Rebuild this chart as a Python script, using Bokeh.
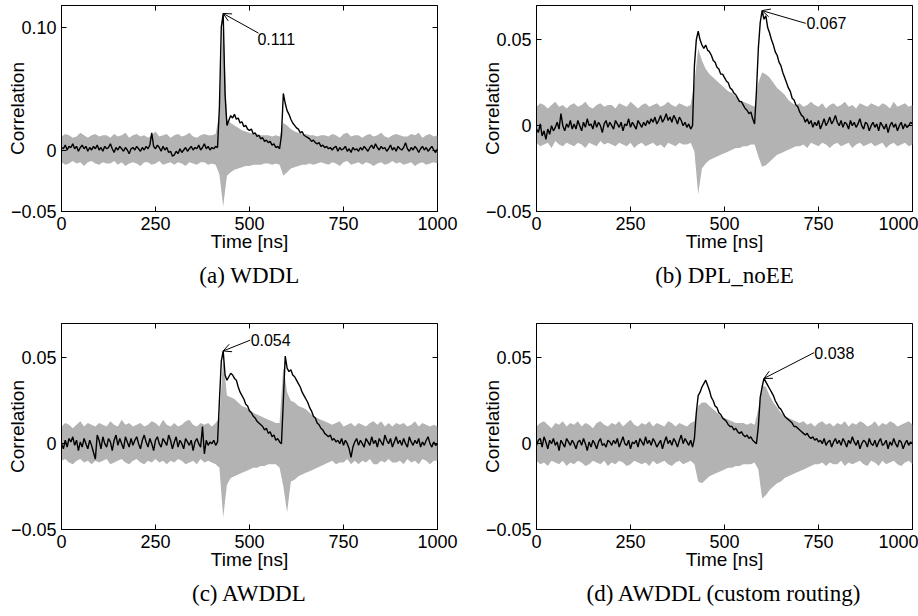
import numpy as np
from bokeh.plotting import figure
from bokeh.layouts import column, row
from bokeh.models import Arrow, OpenHead, Label, FixedTicker, LinearAxis, CustomJSTickFormatter
from bokeh.embed import file_html
from bokeh.resources import INLINE

# ---------------- data (correlation values in units of 1e-3) ----------------
time_ns = list(range(0, 1001, 5))        # black trace sampling
band_time_ns = list(range(0, 1001, 10))  # gray band (wrong key hypotheses) envelope sampling
x_ticks = [0, 250, 500, 750, 1000]

captions = ["(a) WDDL", "(b) DPL_noEE", "(c) AWDDL", "(d) AWDDL (custom routing)"]

# (a) WDDL
wddl_correct = [
    2, 1, 4, 0, 3, 2, 5, 1, 3, -1, 2, 4, 1, 3, -1, 2, 0, 3, 1, 4,
    0, 2, -1, 3, 1, 2, 5, 1, -2, 2, 0, 3, 1, -1, 2, 0, -3, 1, 2, 0,
    3, 1, -1, 2, 0, 3, 1, 4, 14, 3, 1, 4, 2, -1, 3, 0, 2, -2, -1, -5,
    -4, -1, -3, 1, -2, 0, 2, -1, 1, 3, 0, 2, 1, 4, 0, 2, 5, 1, 3, 0,
    2, 1, 3, 2, 35, 100, 111, 45, 20, 24, 28, 26, 29, 25, 26, 22, 23, 19, 20, 17,
    16, 17, 13, 14, 11, 12, 9, 10, 7, 8, 6, 7, 4, 5, 2, 3, 1, 12, 46, 38,
    32, 29, 25, 22, 20, 18, 17, 14, 15, 12, 11, 10, 9, 7, 8, 6, 5, 6, 3, 4,
    2, 3, 1, 2, 0, 2, 3, -1, 2, 0, 1, 3, -1, 1, -2, 2, 0, 1, -1, 2,
    0, 3, 1, -1, 2, 4, 1, 5, 2, 0, 3, 1, 2, -1, 1, 4, 0, 2, -1, 3,
    1, 0, 2, 6, 1, -1, 2, 0, 3, 1, -2, 1, 3, 0, 2, -1, 1, 3, 0, -2,
    1]
wddl_band_hi = [
    11, 13, 12, 10, 11, 14, 12, 10, 12, 13,
    11, 12, 12, 10, 13, 11, 12, 14, 10, 12,
    13, 11, 12, 10, 12, 15, 11, 12, 13, 10,
    12, 13, 11, 12, 14, 11, 10, 12, 13, 12,
    12, 13, 30, 105, 25, 22, 20, 18, 16, 15,
    14, 13, 13, 12, 12, 12, 11, 12, 11, 22,
    20, 17, 15, 14, 13, 13, 12, 12, 11, 12,
    12, 11, 13, 12, 10, 13, 14, 11, 12, 12,
    10, 12, 13, 11, 12, 14, 11, 10, 12, 13,
    12, 11, 11, 13, 12, 14, 10, 12, 13, 11,
    12]
wddl_band_lo = [
    -10, -12, -11, -9, -11, -10, -13, -10, -9, -11,
    -12, -10, -11, -11, -9, -12, -10, -13, -11, -10,
    -11, -13, -10, -10, -12, -11, -9, -12, -11, -10,
    -12, -10, -11, -13, -10, -11, -12, -10, -10, -12,
    -11, -12, -20, -46, -21, -18, -16, -15, -14, -13,
    -13, -12, -12, -12, -11, -11, -12, -11, -12, -21,
    -18, -15, -14, -13, -12, -12, -11, -12, -11, -10,
    -11, -12, -10, -11, -13, -10, -9, -12, -11, -10,
    -12, -10, -11, -13, -11, -10, -12, -11, -9, -11,
    -10, -12, -11, -10, -13, -11, -10, -12, -11, -10,
    -11]

# (b) DPL_noEE
dpl_correct = [
    -2, -4, 1, -6, -3, -8, -2, -5, 0, -3, -1, 2, -2, 7, 0, -3, 1, -1, 3, -2,
    1, -2, 3, 0, -3, 2, -1, 4, 0, 1, -2, 3, -1, 2, 0, -4, 1, 3, -1, 2,
    0, -2, 3, 1, -1, 2, -3, 1, 0, 4, -1, 2, 0, -2, 3, 1, -1, 2, 0, 3,
    1, 4, 2, 5, 1, 3, 6, 2, 4, 7, 3, 5, 2, 6, 4, 1, 5, 3, 0, 2,
    -1, 1, -2, 0, 35, 50, 55, 50, 47, 45, 47, 44, 43, 41, 38, 37, 34, 33, 30, 30,
    28, 26, 25, 22, 21, 19, 18, 16, 14, 14, 12, 10, 9, 7, 8, 4, 1, 20, 45, 60,
    67, 62, 64, 57, 54, 50, 47, 43, 41, 37, 35, 31, 28, 25, 22, 20, 16, 15, 12, 11,
    8, 6, 5, 2, 4, 1, 3, -1, 2, 0, 3, -2, 1, 4, 0, 2, 5, 1, 3, 6,
    2, 0, 3, -1, 2, 1, -2, 3, 0, 2, -1, 1, 4, 0, -2, 2, 1, -3, 0, 2,
    -1, 1, -3, 2, 0, -2, 1, -4, 0, 2, -1, 1, -3, 0, 2, -2, 1, -1, 0, 2,
    1]
dpl_band_hi = [
    11, 13, 12, 10, 12, 14, 11, 12, 10, 12,
    13, 11, 12, 14, 11, 10, 12, 13, 11, 12,
    12, 10, 13, 12, 11, 14, 12, 10, 12, 13,
    11, 12, 13, 11, 12, 14, 12, 11, 13, 12,
    11, 12, 25, 45, 38, 33, 30, 28, 26, 24,
    22, 20, 19, 17, 15, 14, 13, 12, 11, 25,
    31, 30, 28, 25, 22, 20, 18, 15, 13, 12,
    13, 11, 12, 14, 12, 11, 13, 10, 12, 13,
    11, 12, 14, 11, 12, 10, 13, 12, 11, 13,
    12, 11, 13, 12, 10, 14, 11, 12, 13, 11,
    12]
dpl_band_lo = [
    -10, -12, -11, -10, -13, -9, -11, -12, -10, -11,
    -12, -10, -11, -13, -10, -11, -12, -9, -11, -10,
    -11, -12, -10, -11, -12, -10, -13, -11, -10, -12,
    -11, -10, -12, -11, -13, -10, -11, -12, -10, -11,
    -11, -10, -15, -40, -25, -22, -20, -19, -18, -17,
    -16, -15, -14, -13, -13, -12, -12, -11, -11, -18,
    -24, -23, -21, -19, -17, -16, -15, -14, -13, -12,
    -12, -11, -13, -10, -11, -12, -10, -11, -13, -11,
    -10, -12, -11, -10, -13, -11, -10, -12, -11, -10,
    -12, -11, -10, -13, -11, -10, -12, -11, -10, -12,
    -11]

# (c) AWDDL
awddl_correct = [
    0, -3, 2, -2, 3, 1, 4, -1, 2, -4, 1, -2, 3, 0, -3, 2, -1, -5, -9, 5,
    2, -3, 4, 0, -2, 3, 1, -4, 2, 5, -1, 3, 0, -3, 4, 1, -2, 3, -1, 2,
    4, 0, -3, 2, 5, 1, -2, 3, 0, -4, 2, 4, 0, -2, 3, 1, -1, 5, 2, -3,
    1, 4, -2, 2, 0, -3, 3, 1, -1, 2, -4, 1, 3, 0, -2, 10, -6, 2, -1, 1,
    0, 2, -1, 1, 25, 48, 54, 40, 37, 39, 41, 40, 38, 37, 33, 30, 28, 26, 23, 22,
    19, 18, 16, 15, 13, 12, 11, 10, 8, 9, 6, 7, 4, 5, 2, 3, 1, 0, 25, 51,
    44, 42, 43, 40, 39, 37, 35, 33, 30, 28, 26, 24, 21, 19, 16, 15, 12, 11, 9, 8,
    6, 5, 4, 5, 2, 3, 1, 2, 0, 3, -1, 2, 0, -3, -8, -2, 1, 3, -1, 2,
    0, -2, 3, 1, -1, 4, 0, 2, -2, 3, 1, -1, 5, 2, 0, 3, -2, 1, 4, 0,
    2, -1, 3, 0, -2, 4, 1, -1, 2, 0, 3, -2, 1, -1, 2, 4, 0, -2, 1, -1,
    0]
awddl_band_hi = [
    10, 12, 11, 9, 11, 13, 10, 12, 11, 10,
    12, 11, 10, 13, 11, 10, 14, 11, 12, 10,
    11, 12, 10, 11, 13, 12, 10, 14, 11, 10,
    12, 10, 11, 13, 14, 11, 10, 12, 11, 12,
    10, 12, 15, 50, 28, 27, 26, 24, 22, 21,
    20, 18, 17, 16, 15, 14, 13, 12, 12, 45,
    30, 25, 24, 22, 21, 20, 18, 16, 15, 14,
    13, 12, 11, 12, 13, 10, 11, 12, 10, 12,
    11, 10, 12, 13, 11, 13, 10, 12, 10, 12,
    11, 12, 10, 11, 13, 10, 12, 11, 10, 11,
    10]
awddl_band_lo = [
    -10, -9, -11, -12, -10, -9, -11, -10, -12, -10,
    -11, -10, -9, -12, -11, -10, -9, -11, -12, -10,
    -9, -11, -12, -10, -11, -9, -11, -10, -12, -10,
    -11, -9, -10, -12, -11, -10, -12, -9, -11, -10,
    -11, -12, -14, -43, -24, -20, -19, -18, -17, -16,
    -15, -14, -14, -13, -13, -12, -12, -12, -14, -25,
    -40, -22, -21, -19, -18, -17, -16, -15, -14, -13,
    -12, -11, -10, -12, -11, -11, -9, -12, -10, -12,
    -10, -11, -9, -12, -12, -10, -11, -9, -11, -11,
    -10, -12, -9, -11, -10, -12, -9, -10, -12, -10,
    -10]

# (d) AWDDL (custom routing)
custom_correct = [
    -1, 2, 3, -2, 4, 1, -3, 2, 0, 3, -1, 1, -4, 2, 0, -2, 3, 1, -1, 2,
    0, -3, 1, 2, -1, 3, 0, -4, 1, -2, 2, 0, -3, 1, 3, -1, 0, -2, 2, 1,
    -1, 2, 0, 3, -2, 1, 4, 0, -1, 2, -3, 1, 0, 2, -2, 3, 1, -1, 4, 0,
    2, -1, 3, 1, -2, 0, 2, -3, 1, 4, 0, 2, -1, 3, 1, -2, 2, 5, 0, 3,
    1, -1, 2, -2, 3, 18, 28, 30, 33, 35, 37, 34, 31, 27, 25, 22, 21, 18, 17, 15,
    14, 13, 11, 10, 10, 8, 9, 7, 6, 7, 5, 4, 5, 3, 4, 2, 1, 0, 10, 27,
    33, 38, 36, 34, 32, 30, 28, 25, 23, 21, 20, 18, 16, 15, 14, 13, 12, 10, 10, 9,
    8, 7, 6, 5, 6, 4, 3, 4, 2, 3, 1, 2, 0, 3, -1, 1, 2, -2, 1, 3,
    0, 2, -1, 3, 1, -2, 2, 0, 4, 1, -1, 2, -3, 0, 2, 1, -2, 3, 0, -1,
    2, -2, 1, 3, -1, 0, 2, -3, 1, -1, 3, 0, -2, 2, 1, -3, 0, 2, -1, 1,
    0]
custom_band_hi = [
    10, 12, 13, 11, 9, 12, 11, 13, 10, 12,
    11, 13, 10, 12, 11, 9, 12, 13, 11, 10,
    12, 11, 13, 10, 12, 14, 11, 10, 12, 11,
    13, 10, 12, 11, 10, 13, 12, 10, 12, 11,
    10, 12, 13, 22, 24, 24, 22, 20, 18, 16,
    15, 14, 13, 12, 12, 12, 11, 12, 11, 20,
    34, 33, 28, 24, 21, 18, 16, 15, 14, 13,
    12, 13, 11, 12, 10, 12, 13, 11, 12, 10,
    12, 11, 13, 10, 12, 11, 13, 12, 10, 11,
    13, 10, 12, 11, 13, 12, 10, 11, 12, 13,
    11]
custom_band_lo = [
    -10, -12, -11, -13, -10, -11, -12, -10, -13, -11,
    -12, -10, -11, -13, -12, -10, -11, -12, -10, -13,
    -11, -12, -10, -11, -13, -12, -10, -11, -12, -11,
    -13, -10, -12, -11, -10, -12, -13, -11, -10, -12,
    -11, -10, -12, -22, -23, -21, -19, -18, -17, -16,
    -15, -14, -14, -13, -13, -12, -12, -12, -11, -15,
    -32, -30, -27, -25, -23, -22, -20, -19, -18, -17,
    -16, -15, -14, -13, -12, -12, -11, -13, -11, -12,
    -12, -10, -13, -11, -12, -11, -10, -12, -13, -10,
    -11, -13, -10, -12, -11, -10, -12, -13, -11, -10,
    -12]

SCALE = 1e-3

panels = [
    dict(correct=wddl_correct, hi=wddl_band_hi, lo=wddl_band_lo, ymax=0.1175,
         yticks=[-0.05, 0, 0.1], tail=(524, 0.095), text=(521, 0.0955), text_baseline="top"),
    dict(correct=dpl_correct, hi=dpl_band_hi, lo=dpl_band_lo, ymax=0.07,
         yticks=[-0.05, 0, 0.05], tail=(716, 0.0596), text=(718, 0.0596), text_baseline="middle"),
    dict(correct=awddl_correct, hi=awddl_band_hi, lo=awddl_band_lo, ymax=0.07,
         yticks=[-0.05, 0, 0.05], tail=(502, 0.0603), text=(503, 0.0603), text_baseline="middle"),
    dict(correct=custom_correct, hi=custom_band_hi, lo=custom_band_lo, ymax=0.07,
         yticks=[-0.05, 0, 0.05], tail=(738, 0.053), text=(739, 0.053), text_baseline="middle"),
]

SANS = "Liberation Sans"
SERIF = "Liberation Serif"

ytick_fmt = CustomJSTickFormatter(code="""
    if (Math.abs(tick) < 1e-12) { return "0"; }
    return (tick < 0 ? "\u2212" : "") + Math.abs(tick).toFixed(2);
""")


def mirror_axis(ticks):
    return LinearAxis(ticker=FixedTicker(ticks=ticks), major_label_text_font_size="0px",
                      major_label_text_color=None, major_label_text_alpha=0,
                      major_tick_in=5, major_tick_out=0, major_label_standoff=0,
                      minor_tick_line_color=None, axis_line_color=None,
                      major_tick_line_color="black")


def make_panel(i, d):
    left_col = (i % 2 == 0)
    top_row = (i < 2)
    width = 466 if left_col else 452
    height = 318 if top_row else 298
    p = figure(width=width, height=height,
               x_range=(0, 1000), y_range=(-0.05, d["ymax"]),
               output_backend="svg", toolbar_location=None,
               title=captions[i], title_location="below",
               min_border_left=61 if left_col else 70,
               min_border_right=29 if left_col else 6,
               min_border_top=5,
               min_border_bottom=107 if top_row else 87)
    p.background_fill_color = "white"
    p.border_fill_color = "white"
    p.outline_line_color = "black"
    p.outline_line_width = 1
    p.xgrid.grid_line_color = None
    p.ygrid.grid_line_color = None

    t = np.array(time_ns)
    bt = np.array(band_time_ns)
    black = np.array(d["correct"]) * SCALE
    hi = np.array(d["hi"]) * SCALE
    lo = np.array(d["lo"]) * SCALE

    p.varea(x=bt, y1=lo, y2=hi, fill_color="#b3b3b3", fill_alpha=1.0)
    p.line(t, black, line_color="black", line_width=1.4)

    for ax in (p.xaxis[0], p.yaxis[0]):
        ax.major_tick_in = 5
        ax.major_tick_out = 0
        ax.minor_tick_line_color = None
        ax.axis_line_color = "black"
        ax.major_tick_line_color = "black"
        ax.major_label_text_font = SANS
        ax.major_label_text_font_size = "18px"
        ax.major_label_text_color = "black"
        ax.axis_label_text_font = SANS
        ax.axis_label_text_font_size = "19px"
        ax.axis_label_text_font_style = "normal"
        ax.axis_label_text_color = "black"
    p.xaxis.ticker = FixedTicker(ticks=x_ticks)
    p.xaxis.major_label_standoff = 5
    p.xaxis.axis_label = "Time [ns]"
    p.xaxis.axis_label_standoff = -2
    p.yaxis.ticker = FixedTicker(ticks=d["yticks"])
    p.yaxis.formatter = ytick_fmt
    p.yaxis.major_label_standoff = 5
    p.yaxis.axis_label = "Correlation"
    p.yaxis.axis_label_standoff = -20

    # mirrored tick marks on top and right edges
    p.add_layout(mirror_axis(x_ticks), "above")
    p.add_layout(mirror_axis(d["yticks"]), "right")

    # caption
    p.title.align = "center"
    p.title.text_font = SERIF
    p.title.text_font_size = "23px"
    p.title.text_font_style = "normal"
    p.title.text_color = "black"
    p.title.standoff = 12

    # peak annotation
    k = int(np.argmax(black))
    peak_t, peak_v = t[k], black[k]
    p.add_layout(Arrow(end=OpenHead(size=8, line_width=1, line_color="black"),
                       x_start=d["tail"][0], y_start=d["tail"][1],
                       x_end=peak_t, y_end=peak_v,
                       line_color="black", line_width=1))
    p.add_layout(Label(x=d["text"][0], y=d["text"][1], text=f"{peak_v:.3f}",
                       text_font=SANS, text_font_size="16px", text_color="black",
                       text_align="left", text_baseline=d["text_baseline"]))
    return p


figs = [make_panel(i, d) for i, d in enumerate(panels)]
layout = column(row(figs[0], figs[1]), row(figs[2], figs[3]))

open("out.html", "w").write(file_html(layout, INLINE))
